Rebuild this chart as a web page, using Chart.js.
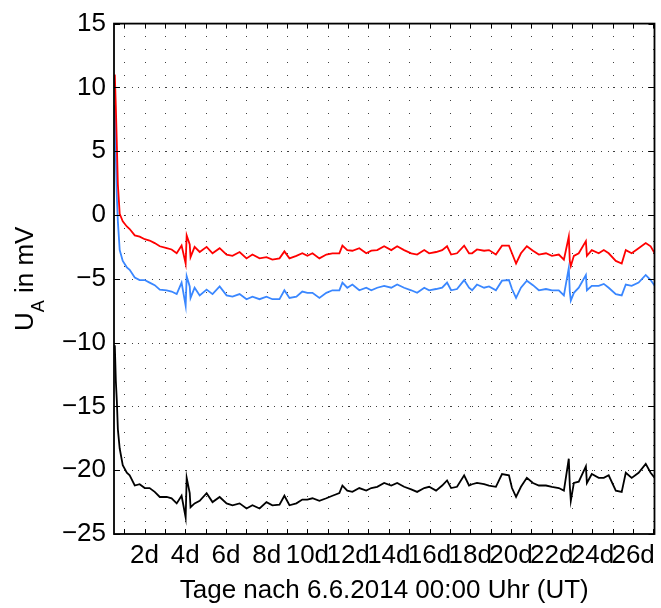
<!DOCTYPE html>
<html>
<head>
<meta charset="utf-8">
<script src="https://cdn.jsdelivr.net/npm/chart.js@4"></script>
<style>
  html, body { margin: 0; padding: 0; background: #fff; }
  canvas { display: block; }
</style>
</head>
<body>
<canvas id="uaChart" width="661" height="608"></canvas>
<script>
// Zeit in Tagen nach 6.6.2014 00:00 UT
const days = [
  0.54, 0.59, 0.64, 0.69, 0.78, 0.93, 1.13, 1.27, 1.52, 1.76,
  2.01, 2.25, 2.50, 2.75, 3.09, 3.33, 3.58, 3.82, 4.02, 4.07,
  4.22, 4.26, 4.46, 4.71, 5.05, 5.34, 5.69, 6.03, 6.32, 6.67,
  7.01, 7.30, 7.65, 7.99, 8.28, 8.63, 8.87, 9.12, 9.46, 9.75,
  10.00, 10.25, 10.59, 10.93, 11.23, 11.57, 11.72, 11.96, 12.21, 12.55,
  12.89, 13.14, 13.43, 13.77, 14.12, 14.41, 14.75, 15.10, 15.39, 15.74,
  15.98, 16.32, 16.62, 16.86, 17.06, 17.35, 17.70, 17.94, 18.09, 18.33,
  18.68, 18.92, 19.26, 19.56, 19.90, 20.05, 20.25, 20.49, 20.78, 21.08,
  21.37, 21.72, 22.01, 22.35, 22.60, 22.84, 22.89, 22.94, 23.09, 23.33,
  23.68, 23.73, 23.97, 24.31, 24.56, 24.80, 25.15, 25.44, 25.64, 25.93,
  26.27, 26.62, 26.86, 27.06
];

// U_A in mV, drei Elektroden
const uRed = [
  11.0, 8.5, 5.5, 2.4, 0.1, -0.5, -0.9, -1.1, -1.6, -1.7,
  -1.9, -2.0, -2.2, -2.45, -2.6, -2.7, -3.0, -2.4, -3.8, -1.6,
  -2.3, -3.3, -2.5, -2.9, -2.5, -3.0, -2.6, -3.1, -3.2, -2.9,
  -3.4, -3.1, -3.4, -3.3, -3.5, -3.4, -2.85, -3.4, -3.2, -3.0,
  -3.2, -3.0, -3.4, -3.1, -3.0, -3.0, -2.4, -2.75, -2.8, -2.6,
  -3.0, -2.8, -2.75, -2.45, -2.75, -2.45, -2.75, -3.0, -3.1, -2.75,
  -3.0, -2.9, -2.75, -2.45, -3.1, -3.0, -2.4, -3.0, -3.0, -2.7,
  -2.8, -2.75, -3.1, -2.4, -2.4, -3.0, -3.8, -3.0, -2.45, -2.8,
  -3.1, -3.0, -3.2, -3.1, -3.5, -1.7, -3.6, -4.0, -3.2, -3.0,
  -2.05, -3.2, -2.75, -3.0, -2.75, -3.0, -3.6, -3.8, -2.75, -3.0,
  -2.6, -2.2, -2.45, -3.0
];

const uBlue = [
  8.6, 4.5, 1.4, -0.5, -2.75, -3.6, -4.1, -4.3, -4.9, -5.1,
  -5.1, -5.3, -5.5, -5.85, -5.9, -6.0, -6.2, -5.3, -7.1, -4.8,
  -5.6, -6.5, -5.7, -6.3, -5.85, -6.2, -5.6, -6.3, -6.4, -6.2,
  -6.6, -6.4, -6.6, -6.4, -6.6, -6.6, -5.9, -6.5, -6.4, -6.0,
  -6.1, -6.1, -6.5, -6.1, -5.9, -5.9, -5.3, -5.7, -5.45, -5.9,
  -5.7, -5.9, -5.7, -5.55, -5.7, -5.45, -5.7, -5.9, -6.1, -5.7,
  -5.9, -5.8, -5.7, -5.3, -5.9, -5.8, -5.1, -5.7, -5.9, -5.45,
  -5.7, -5.6, -5.9, -5.15, -5.1, -5.8, -6.5, -5.7, -5.15, -5.5,
  -5.9, -5.8, -5.9, -5.9, -6.3, -4.15, -6.0, -6.7, -6.1, -5.7,
  -4.7, -5.9, -5.55, -5.55, -5.4, -5.7, -6.2, -6.3, -5.45, -5.55,
  -5.3, -4.7, -5.1, -5.55
];

const uBlack = [
  -10.2, -13.0, -14.6, -16.8, -18.3, -19.6, -20.2, -20.4, -21.2, -21.1,
  -21.4, -21.4, -21.7, -22.1, -22.1, -22.2, -22.6, -22.0, -23.7, -20.6,
  -21.8, -22.9, -22.6, -22.4, -21.8, -22.5, -22.1, -22.6, -22.75, -22.6,
  -23.0, -22.75, -23.0, -22.5, -22.75, -22.7, -22.0, -22.75, -22.6, -22.3,
  -22.3, -22.2, -22.4, -22.2, -22.0, -21.8, -21.2, -21.6, -21.7, -21.4,
  -21.6, -21.4, -21.3, -21.0, -21.2, -21.0, -21.3, -21.5, -21.7, -21.4,
  -21.3, -21.6, -21.2, -20.8, -21.4, -21.3, -20.4, -21.2, -21.1, -21.0,
  -21.1, -21.2, -21.3, -20.3, -20.4, -21.4, -22.1, -21.3, -20.6, -21.0,
  -21.2, -21.2, -21.3, -21.4, -21.6, -19.1, -21.2, -22.4, -21.0, -20.9,
  -19.7, -21.0, -20.3, -20.6, -20.6, -20.4, -21.6, -21.7, -20.2, -20.6,
  -20.2, -19.5, -20.2, -20.6
];

const xTickDays = [2, 4, 6, 8, 10, 12, 14, 16, 18, 20, 22, 24, 26];
const yTickValues = [-25, -20, -15, -10, -5, 0, 5, 10, 15];

const fontFamily = "'Liberation Sans', Arial, Helvetica, sans-serif";
const axisFont = { family: fontFamily, size: 26 };

function toPoints(values) {
  return days.map((d, i) => ({ x: d, y: values[i] }));
}

// Rahmen, Punktraster, Ticks und y-Beschriftung im MATLAB-Stil
const matlabAxes = {
  id: 'matlabAxes',
  beforeDatasetsDraw(chart) {
    const ctx = chart.ctx;
    const { left, right, top, bottom } = chart.chartArea;
    const xs = chart.scales.x, ys = chart.scales.y;
    ctx.save();
    ctx.fillStyle = '#404040';
    // Nebengitter: Punkte an jedem Tag / jedem mV
    for (let d = 1; d <= 27; d++) {
      const px = Math.round(xs.getPixelForValue(d));
      for (let v = -24; v <= 14; v++) {
        const py = Math.round(ys.getPixelForValue(v));
        ctx.fillRect(px, py, 1, 1);
      }
    }
    // Hauptgitter bei den beschrifteten y-Werten
    yTickValues.forEach(v => {
      if (v === -25 || v === 15) return;
      const py = Math.round(ys.getPixelForValue(v));
      for (let px = left + 4; px < right - 2; px += 6.8) {
        ctx.fillRect(Math.round(px), py, 1, 1);
      }
    });
    ctx.restore();
  },
  afterDatasetsDraw(chart) {
    const ctx = chart.ctx;
    const { left, right, top, bottom } = chart.chartArea;
    const xs = chart.scales.x, ys = chart.scales.y;
    ctx.save();
    ctx.strokeStyle = '#000';
    ctx.lineWidth = 1;
    ctx.beginPath();
    for (let d = 1; d <= 27; d++) {
      const px = Math.round(xs.getPixelForValue(d)) + 0.5;
      ctx.moveTo(px, bottom);
      ctx.lineTo(px, bottom - 5);
      ctx.moveTo(px, top);
      ctx.lineTo(px, top + 5);
    }
    yTickValues.forEach(v => {
      const py = Math.round(ys.getPixelForValue(v)) + 0.5;
      ctx.moveTo(left, py);
      ctx.lineTo(left + 6, py);
      ctx.moveTo(right, py);
      ctx.lineTo(right - 6, py);
    });
    ctx.stroke();
    ctx.lineWidth = 1.8;
    ctx.strokeRect(left, top, right - left, bottom - top);

    // y-Achsentitel mit tiefgestelltem A
    const cy = (top + bottom) / 2;
    ctx.translate(33, cy);
    ctx.rotate(-Math.PI / 2);
    ctx.fillStyle = '#000';
    ctx.textBaseline = 'alphabetic';
    ctx.textAlign = 'left';
    const big = '26px ' + fontFamily;
    const small = '18px ' + fontFamily;
    ctx.font = big;
    const wU = ctx.measureText('U').width;
    const wRest = ctx.measureText(' in mV').width;
    ctx.font = small;
    const wA = ctx.measureText('A').width;
    const x0 = -(wU + wA + wRest) / 2;
    ctx.font = big;
    ctx.fillText('U', x0, 0);
    ctx.font = small;
    ctx.fillText('A', x0 + wU, 11);
    ctx.font = big;
    ctx.fillText(' in mV', x0 + wU + wA, 0);
    ctx.restore();
  }
};

const ctx = document.getElementById('uaChart').getContext('2d');
const uaChart = new Chart(ctx, {
  type: 'line',
  data: {
    datasets: [
      { label: 'rot', data: toPoints(uRed), borderColor: '#ff0000', borderWidth: 1.8 },
      { label: 'blau', data: toPoints(uBlue), borderColor: '#3a87ff', borderWidth: 1.8 },
      { label: 'schwarz', data: toPoints(uBlack), borderColor: '#000000', borderWidth: 1.8 }
    ]
  },
  options: {
    responsive: false,
    animation: false,
    events: [],
    elements: {
      point: { radius: 0 },
      line: { tension: 0, fill: false }
    },
    layout: { padding: { top: 18, right: 5, left: 0, bottom: 0 } },
    plugins: {
      legend: { display: false },
      tooltip: { enabled: false }
    },
    scales: {
      x: {
        type: 'linear',
        min: 0.5,
        max: 27.05,
        grid: { display: false, drawTicks: false },
        border: { display: false },
        afterBuildTicks: s => { s.ticks = xTickDays.map(v => ({ value: v })); },
        afterFit: s => { s.height = 74; },
        ticks: {
          autoSkip: false,
          maxRotation: 0,
          padding: 6,
          color: '#000',
          font: axisFont,
          callback: v => v + 'd'
        },
        title: {
          display: true,
          text: 'Tage nach 6.6.2014 00:00 Uhr (UT)',
          color: '#000',
          font: axisFont,
          padding: { top: 0, bottom: 2 }
        }
      },
      y: {
        min: -25,
        max: 15,
        grid: { display: false, drawTicks: false },
        border: { display: false },
        afterBuildTicks: s => { s.ticks = yTickValues.map(v => ({ value: v })); },
        afterFit: s => { s.width = 114; },
        ticks: {
          padding: 8,
          color: '#000',
          font: axisFont,
          callback: v => (v < 0 ? '\u2212' + Math.abs(v) : String(v))
        }
      }
    }
  },
  plugins: [matlabAxes]
});
</script>
</body>
</html>
